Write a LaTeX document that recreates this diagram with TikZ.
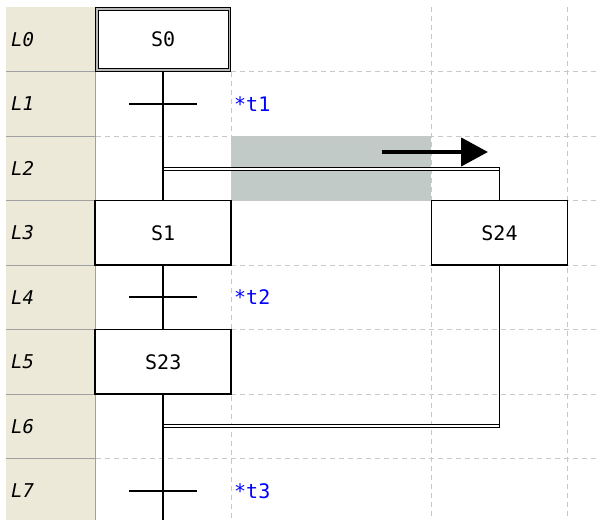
\documentclass[tikz,border=0pt]{standalone}
\usepackage{fontspec}
\setmainfont{DejaVu Sans Mono}
\usetikzlibrary{arrows.meta}
\definecolor{beige}{HTML}{ECE9D8}
\definecolor{sepgray}{HTML}{A0A0A0}
\definecolor{gridgray}{HTML}{C8C8C8}
\definecolor{hilite}{HTML}{C2CAC7}
\definecolor{lblue}{HTML}{0000FF}
\tikzset{
  stepbox/.style={draw=black, line width=1.6pt, fill=white, minimum width=136pt,
    minimum height=64.5pt, inner sep=0pt, font=\fontsize{20}{20}\selectfont},
  initbox/.style={stepbox, minimum width=132.4pt, minimum height=60.9pt,
    line width=1.3pt, double=gray!55, double distance=1.2pt},
  conn/.style={draw=black, line width=1.6pt},
  dbl/.style={draw=black, line width=1.1pt, double=white, double distance=1.6pt},
  gridline/.style={draw=gridgray, line width=1pt, dash pattern=on 5pt off 4pt},
  sepline/.style={draw=sepgray, line width=1pt},
  rowlbl/.style={anchor=west, inner sep=0pt, font=\fontsize{19}{19}\selectfont\itshape},
  tlabel/.style={anchor=west, inner sep=0pt, text=lblue, font=\fontsize{20}{20}\selectfont},
  bigarrow/.style={draw=black, line width=4.5pt, -{Triangle[length=27pt,width=28pt]}}
}
\begin{document}
\begin{tikzpicture}[x=1pt,y=-1pt]
\useasboundingbox (0,0) rectangle (598,520);
\clip (0,0) rectangle (598,520);
% left label column
\fill[beige] (6,7) rectangle (95,520);
\foreach \yy in {71.5,136,200.5,265,329.5,394,458.5}{
  \draw[sepline] (6,\yy) -- (95,\yy);
}
\draw[sepline] (95,7) -- (95,520);
% highlight
\fill[hilite] (231,136) rectangle (431,200.5);
% grid
\foreach \yy in {71.5,136,200.5,265,329.5,394,458.5}{
  \draw[gridline] (96,\yy) -- (598,\yy);
}
\draw[gridline] (231,72) -- (231,520);
\draw[gridline] (431.5,7) -- (431.5,520);
\draw[gridline] (567.5,7) -- (567.5,520);
% row labels
\node[rowlbl] (l0) at (11,39.25) {L0};
\node[rowlbl] (l1) at (11,103.75) {L1};
\node[rowlbl] (l2) at (11,168.25) {L2};
\node[rowlbl] (l3) at (11,232.75) {L3};
\node[rowlbl] (l4) at (11,297.25) {L4};
\node[rowlbl] (l5) at (11,361.75) {L5};
\node[rowlbl] (l6) at (11,426.25) {L6};
\node[rowlbl] (l7) at (11,490.75) {L7};
% coordinates
\coordinate (t1) at (163.25,103.75);
\coordinate (t2) at (163.25,297.25);
\coordinate (t3) at (163.25,490.75);
\coordinate (bL) at (163.25,168.75);
\coordinate (bR) at (499.5,168.75);
\coordinate (bRt) at (499.5,166.9);
\coordinate (cL) at (163.25,426.25);
\coordinate (cR) at (499.5,426.25);
\coordinate (cRb) at (499.5,428.1);
\coordinate (bot) at (163.25,521);
\coordinate (a1) at (382,152);
\coordinate (a2) at (488,152);
% steps
\node[initbox] (s0) at (163.25,39.5) {S0};
\node[stepbox] (s1) at (163.25,232.75) {S1};
\node[stepbox] (s24) at (499.5,232.75) {S24};
\node[stepbox] (s23) at (163.25,361.75) {S23};
% divergence / convergence double lines
\draw[dbl] (bL) -- (bR);
\draw[dbl] (cR) -- (cL);
% connectors
\draw[conn] (s0.south) -- (s1.north);
\draw[conn] (s1.south) -- (s23.north);
\draw[conn] (s23.south) -- (bot);
\draw[conn] (bRt) -- (s24.north);
\draw[conn, line width=1.8pt] (s24.south) -- (cRb);
% transitions
\draw[conn] ([xshift=-34pt]t1) -- ([xshift=34pt]t1);
\draw[conn] ([xshift=-34pt]t2) -- ([xshift=34pt]t2);
\draw[conn] ([xshift=-34pt]t3) -- ([xshift=34pt]t3);
\node[tlabel] (t1l) at (234,103.75) {*t1};
\node[tlabel] (t2l) at (234,297.25) {*t2};
\node[tlabel] (t3l) at (234,490.75) {*t3};
% arrow
\draw[bigarrow] (a1) -- (a2);
\end{tikzpicture}
\end{document}
